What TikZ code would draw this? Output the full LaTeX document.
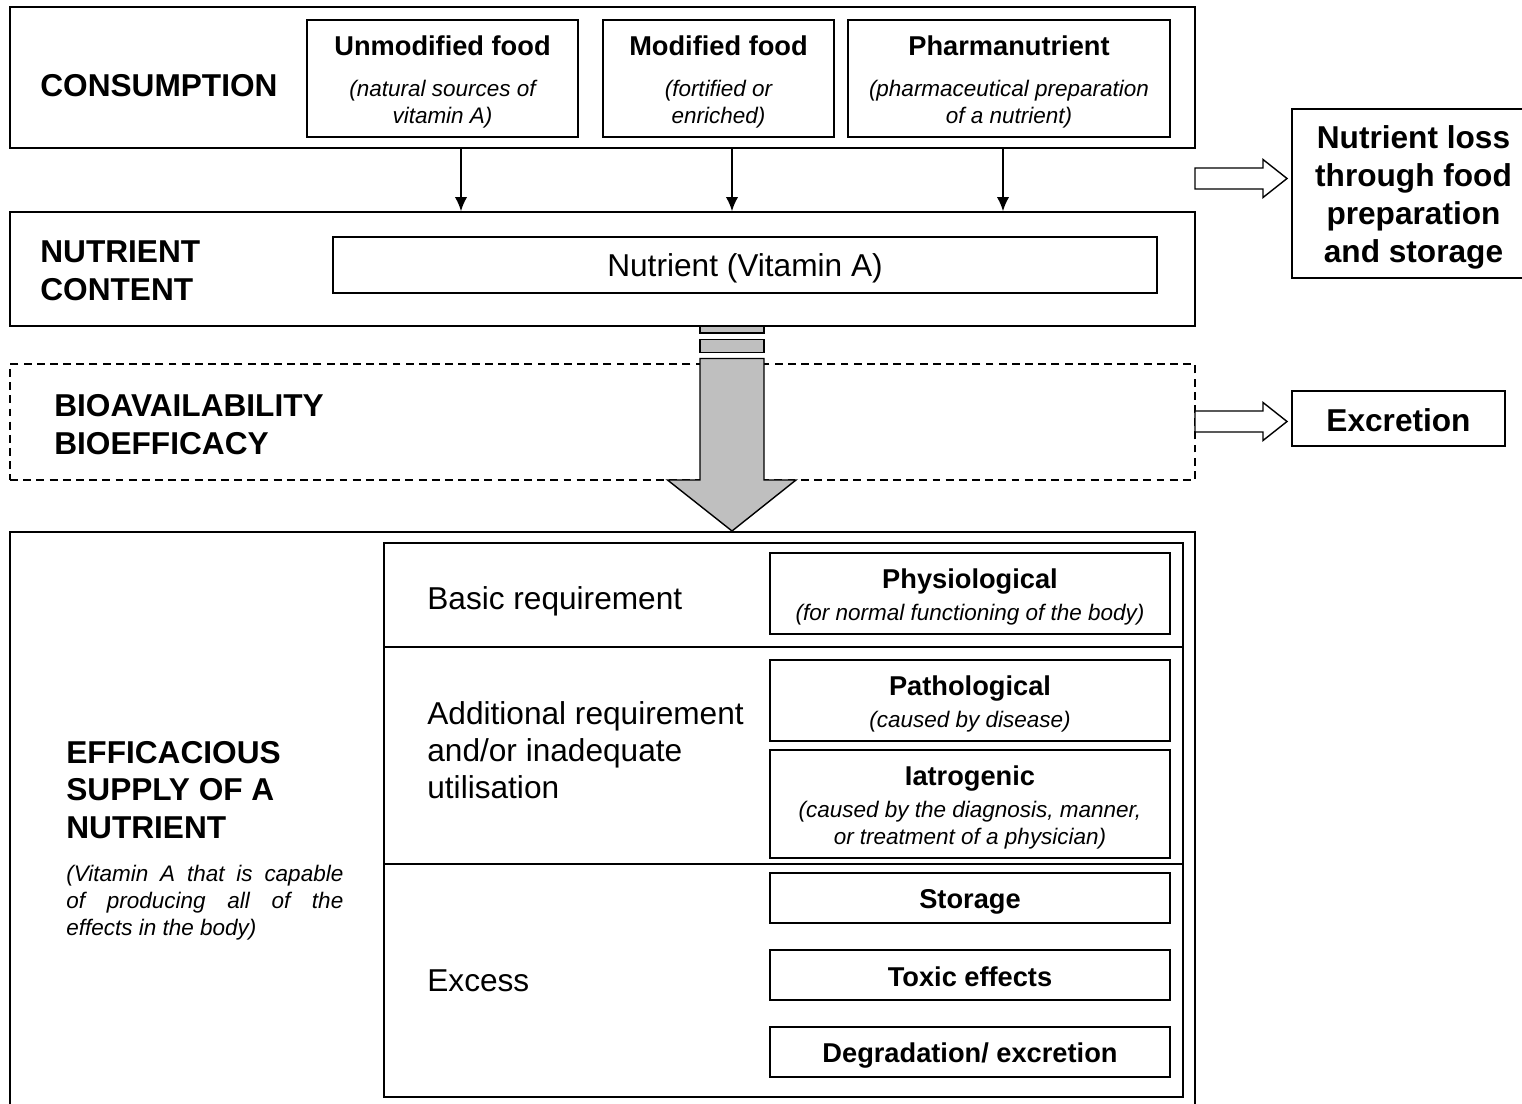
\documentclass[tikz,border=0pt]{standalone}
\usepackage{fontspec}
\setmainfont{Liberation Sans}
\usetikzlibrary{arrows.meta,calc,positioning}

\newcommand{\ttl}{\fontsize{15.5}{18}\selectfont\bfseries\upshape}
\newcommand{\sub}{\fontsize{12.8}{15.3}\selectfont\itshape}
\newcommand{\lift}[1]{\rule{0pt}{#1}}

\begin{document}
\begin{tikzpicture}[x=0.02cm, y=-0.02cm, every node/.style={inner sep=0pt},
    box/.style={draw, line width=1pt, align=center, font=\sub},
    head/.style={font=\fontsize{18}{21.5}\selectfont\bfseries, align=left, anchor=west},
    lab/.style={font=\fontsize{18}{21}\selectfont, align=left, anchor=west},
    big/.style={font=\fontsize{18}{21.5}\selectfont\bfseries},
    flow/.style={draw, line width=0.8pt, fill=black!25},
    hollow/.style={draw, line width=0.8pt, fill=white},
    thin/.style={-{Latex[length=8pt,width=7pt]}, line width=0.8pt} ]

    \useasboundingbox (0,0) rectangle (1522,1104);

    % Consumption
    \node[box, minimum width=23.7cm, minimum height=2.82cm] (cons) at (602.5,77.5) {};
    \node[head] (consl) at (40,86) {CONSUMPTION};
    \node[box, minimum width=5.42cm, minimum height=2.34cm] (unmod) at (442.5,78.5)
        {{\ttl\lift{15.5pt}Unmodified food}\\[8pt](natural sources of\\vitamin A)};
    \node[box, minimum width=4.62cm, minimum height=2.34cm] (modif) at (718.5,78.5)
        {{\ttl\lift{15.5pt}Modified food}\\[8pt](fortified or\\enriched)};
    \node[box, minimum width=6.44cm, minimum height=2.34cm] (pharm) at (1009,78.5)
        {{\ttl\lift{15.5pt}Pharmanutrient}\\[8pt](pharmaceutical preparation\\of a nutrient)};

    % Nutrient content
    \node[box, minimum width=23.7cm, minimum height=2.28cm] (nutc) at (602.5,269) {};
    \node[head] (nutcl) at (40,271) {NUTRIENT\\CONTENT};
    \node[box, minimum width=16.48cm, minimum height=1.12cm,
        font=\fontsize{18}{21.5}\selectfont] (vita) at (745,265) {\lift{16.6pt}Nutrient (Vitamin A)};

    \foreach \xx [count=\i] in {461,732,1003} {
        \coordinate (c\i) at (\xx,0);
        \draw[thin] (cons.south -| c\i) -- (nutc.north -| c\i);
    }

    % Bioavailability
    \node[box, line width=0.8pt, dash pattern=on 4.5pt off 3pt,
        minimum width=23.7cm, minimum height=2.32cm] (bio) at (602.5,422) {};
    \node[head] (biol) at (54,424.5) {BIOAVAILABILITY\\BIOEFFICACY};

    % big grey arrow
    \draw[flow] (700,326) rectangle (764,333);
    \draw[flow] (700,339.5) rectangle (764,352.5);
    \draw[flow] (700,358.5) -- (700,480) -- (667.5,480) -- (732,531)
        -- (796,480) -- (764,480) -- (764,358.5) -- cycle;

    % Losses on the right
    \node[box, big, minimum width=4.86cm, minimum height=3.38cm] (loss) at (1413.5,193.5)
        {\lift{17.6pt}Nutrient loss\\through food\\preparation\\and storage};
    \node[box, big, minimum width=4.26cm, minimum height=1.1cm] (excr) at (1398.5,418.5)
        {\lift{15pt}Excretion};

    \foreach \yy in {178.5,421.5}
        \draw[hollow] (1195,\yy) ++(0,-10.5) -- ++(68,0) -- ++(0,-8.5) -- ++(24,19)
            -- ++(-24,19) -- ++(0,-8.5) -- ++(-68,0) -- cycle;

    % Efficacious supply
    \node[box, minimum width=23.7cm, minimum height=11.8cm, anchor=north] (eff) at (602.5,531) {};
    \node[head] (effl) at (66,790) {EFFICACIOUS\\SUPPLY OF A\\NUTRIENT};
    \node[font=\sub, text width=5.54cm, align=justify, anchor=north west] (effn) at (66,865)
        {(Vitamin A that is capable\linebreak of producing all of the\linebreak effects in the body)};

    \node[draw, line width=0.8pt, minimum width=15.98cm, minimum height=11.08cm] (tab) at (783.5,820) {};
    \coordinate (r1) at (0,647);
    \coordinate (r2) at (0,864);
    \draw[line width=0.8pt] (tab.west |- r1) -- (tab.east |- r1);
    \draw[line width=0.8pt] (tab.west |- r2) -- (tab.east |- r2);

    \node[lab] (basic) at (427,601) {Basic requirement};
    \node[lab] (addit) at (427,750) {Additional requirement\\and/or inadequate\\utilisation};
    \node[lab] (exces) at (427,981) {Excess};

    \node[box, minimum width=8cm, minimum height=1.62cm] (phys) at (970,593.5)
        {{\ttl\lift{15.5pt}Physiological}\\[3pt](for normal functioning of the body)};
    \node[box, minimum width=8cm, minimum height=1.62cm] (patho) at (970,700.5)
        {{\ttl\lift{15.5pt}Pathological}\\[3pt](caused by disease)};
    \node[box, minimum width=8cm, minimum height=2.16cm] (iatro) at (970,804)
        {{\ttl\lift{15.5pt}Iatrogenic}\\[3pt](caused by the diagnosis, manner,\\or treatment of a physician)};
    \node[box, minimum width=8cm, minimum height=1cm] (stor) at (970,898) {{\ttl\lift{15.5pt}Storage}};
    \node[box, minimum width=8cm, minimum height=1cm] (toxic) at (970,975) {{\ttl\lift{13pt}Toxic effects}};
    \node[box, minimum width=8cm, minimum height=1cm] (degr) at (970,1052) {{\ttl\lift{15.5pt}Degradation/ excretion}};

\end{tikzpicture}
\end{document}
